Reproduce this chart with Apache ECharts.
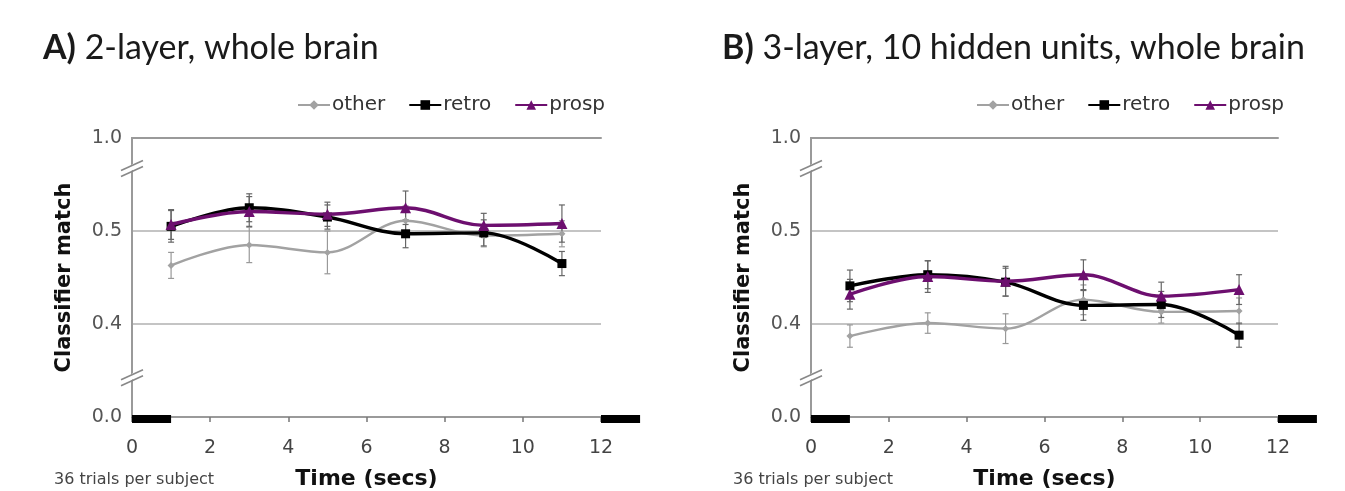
<!DOCTYPE html>
<html><head><meta charset="utf-8">
<script src="https://cdn.jsdelivr.net/npm/echarts@6/dist/echarts.min.js"></script>
<style>html,body{margin:0;padding:0;background:#fff}#c{width:1345px;height:491px}</style>
</head><body><div id="c"></div>
<script>
// ---- data ----
const times = [1, 3, 5, 7, 9, 11];
const xTickStep = 2;
const yTickLabels = ['0.0', '0.4', '0.5', '1.0']; // broken axis: shown at virtual 0.3,0.4,0.5,0.6
const seriesNames = ['other', 'retro', 'prosp'];
const titlesBold = ['A)', 'B)'];
const titlesText = ['2-layer, whole brain', '3-layer, 10 hidden units, whole brain'];
const footNote = '36 trials per subject';
const baselineBars = [[0, 1], [12, 13]];
const breakMarks = [0.34, 0.565];
// Panel A
const aOther = [0.463, 0.485, 0.477, 0.511, 0.495, 0.497];
const aOtherErr = [0.014, 0.019, 0.023, 0.016, 0.012, 0.014];
const aRetro = [0.505, 0.525, 0.515, 0.497, 0.498, 0.465];
const aRetroErr = [0.017, 0.015, 0.013, 0.015, 0.014, 0.013];
const aProsp = [0.507, 0.521, 0.518, 0.525, 0.506, 0.508];
const aProspErr = [0.016, 0.016, 0.013, 0.018, 0.013, 0.020];
// Panel B
const bOther = [0.387, 0.401, 0.395, 0.426, 0.413, 0.414];
const bOtherErr = [0.012, 0.011, 0.016, 0.016, 0.012, 0.014];
const bRetro = [0.441, 0.453, 0.445, 0.420, 0.421, 0.388];
const bRetroErr = [0.017, 0.015, 0.015, 0.016, 0.014, 0.013];
const bProsp = [0.432, 0.451, 0.446, 0.453, 0.430, 0.437];
const bProspErr = [0.016, 0.017, 0.016, 0.016, 0.015, 0.016];

const panels = [
  {vals: [aOther, aRetro, aProsp], errs: [aOtherErr, aRetroErr, aProspErr]},
  {vals: [bOther, bRetro, bProsp], errs: [bOtherErr, bRetroErr, bProspErr]}
];

// ---- styles ----
const FONT = 'DejaVu Sans';
const colors = ['#a2a2a2', '#000000', '#6d0f6f'];
const symbols = ['diamond', 'rect', 'triangle'];
const symbolSizes = [7, 9, 11];
const lineWidths = [2.4, 3.4, 3.4];
const grids = [
  {left: 132, top: 138, width: 469, height: 279, containLabel: false, outerBoundsMode: 'none'},
  {left: 811, top: 138, width: 467, height: 279, containLabel: false, outerBoundsMode: 'none'}
];
const axisGray = '#9a9a9a';

const zip = (xs, ys) => xs.map((x, i) => [x, ys[i]]);

const option = {
  animation: false,
  backgroundColor: '#fff',
  title: grids.map((g, i) => ({
    text: '{b|' + titlesBold[i] + '} ' + titlesText[i],
    left: g.left - 94, top: 26,
    textStyle: {
      fontFamily: 'Lato', fontSize: 34, color: '#1a1a1a', fontWeight: 'normal',
      rich: {b: {fontFamily: 'Lato', fontSize: 34, fontWeight: 'bold', color: '#1a1a1a'}}
    }
  })),
  legend: grids.map((g, i) => ({
    data: seriesNames,
    left: g.left + 160, top: 90,
    itemWidth: 32, itemHeight: 12, itemGap: 23,
    textStyle: {fontFamily: FONT, fontSize: 20, color: '#333', padding: [0, 0, 0, -3]},
    selectedMode: false
  })),
  grid: grids,
  xAxis: grids.flatMap((g, i) => [{
    type: 'value', gridIndex: i, min: 0, max: 12, interval: xTickStep,
    axisLine: {lineStyle: {color: axisGray, width: 2}},
    axisTick: {show: true, length: 5, lineStyle: {color: '#777', width: 1.5}},
    axisLabel: {fontFamily: FONT, fontSize: 19, color: '#444', margin: 22},
    splitLine: {show: false},
    name: 'Time (secs)', nameLocation: 'middle', nameGap: 51,
    nameTextStyle: {fontFamily: FONT, fontSize: 22, fontWeight: 'bold', color: '#111'}
  }, {
    type: 'value', gridIndex: i, position: 'top', min: 0, max: 12,
    axisLine: {lineStyle: {color: axisGray, width: 2}},
    axisTick: {show: false}, axisLabel: {show: false}, splitLine: {show: false}
  }]),
  yAxis: grids.flatMap((g, i) => [{
    type: 'value', gridIndex: i, min: 0.3, max: 0.6, interval: 0.1,
    axisLine: {show: true, lineStyle: {color: axisGray, width: 2}},
    axisTick: {show: false},
    axisLabel: {
      fontFamily: FONT, fontSize: 19, color: '#555', margin: 10,
      formatter: v => yTickLabels[Math.round((v - 0.3) / 0.1)]
    },
    splitLine: {show: true, lineStyle: {color: '#b0b0b0', width: 1.5}},
    name: 'Classifier match', nameLocation: 'middle', nameRotate: 90, nameGap: 57,
    nameTextStyle: {fontFamily: FONT, fontSize: 21, fontWeight: 'bold', color: '#111'}
  }, {
    type: 'value', gridIndex: i, position: 'right', min: 0.3, max: 0.6,
    axisLine: {show: true, lineStyle: {color: axisGray, width: 2}},
    axisTick: {show: false}, axisLabel: {show: false}, splitLine: {show: false}
  }]),
  graphic: grids.map(g => ({
    type: 'text', left: g.left - 78, top: 472,
    style: {text: footNote, fontFamily: FONT, fontSize: 16, fill: '#444'}
  })),
  series: []
};

panels.forEach((p, gi) => {
  const xi = gi * 2, yi = gi * 2;
  // baseline black bars
  option.series.push({
    type: 'custom', xAxisIndex: xi, yAxisIndex: yi, clip: false, silent: true, z: 5,
    data: baselineBars.map(b => [b[0], b[1]]),
    renderItem: (params, api) => {
      const a = api.coord([api.value(0), 0.3]);
      const b = api.coord([api.value(1), 0.3]);
      return {type: 'rect', shape: {x: a[0], y: a[1] - 2, width: b[0] - a[0], height: 8},
        style: {fill: '#000'}};
    }
  });
  // axis break marks
  option.series.push({
    type: 'custom', xAxisIndex: xi, yAxisIndex: yi, clip: false, silent: true, z: 5,
    data: breakMarks.map(y => [0, y]),
    renderItem: (params, api) => {
      const c = api.coord([api.value(0), api.value(1)]);
      const x = c[0], y = c[1];
      return {type: 'group', children: [
        {type: 'polygon', shape: {points: [[x - 3, y + 2], [x + 3, y - 2], [x + 3, y - 8], [x - 3, y - 4]]}, style: {fill: '#fff'}},
        {type: 'line', shape: {x1: x - 11, y1: y + 6, x2: x + 11, y2: y - 4}, style: {stroke: '#888', lineWidth: 1.6}},
        {type: 'line', shape: {x1: x - 11, y1: y, x2: x + 11, y2: y - 10}, style: {stroke: '#888', lineWidth: 1.6}}
      ]};
    }
  });
  p.vals.forEach((vals, si) => {
    const errs = p.errs[si];
    // error bars
    option.series.push({
      type: 'custom', xAxisIndex: xi, yAxisIndex: yi, silent: true, z: 3,
      data: times.map((t, k) => [t, vals[k] - errs[k], vals[k] + errs[k]]),
      renderItem: (params, api) => {
        const lo = api.coord([api.value(0), api.value(1)]);
        const hi = api.coord([api.value(0), api.value(2)]);
        const st = {stroke: si === 0 ? '#999' : '#666', lineWidth: 1.2};
        return {type: 'group', children: [
          {type: 'line', shape: {x1: lo[0], y1: lo[1], x2: hi[0], y2: hi[1]}, style: st},
          {type: 'line', shape: {x1: lo[0] - 3, y1: lo[1], x2: lo[0] + 3, y2: lo[1]}, style: st},
          {type: 'line', shape: {x1: hi[0] - 3, y1: hi[1], x2: hi[0] + 3, y2: hi[1]}, style: st}
        ]};
      }
    });
    option.series.push({
      type: 'line', name: seriesNames[si], xAxisIndex: xi, yAxisIndex: yi,
      data: zip(times, vals), smooth: 0.35, z: 4 + si,
      symbol: symbols[si], symbolSize: symbolSizes[si],
      lineStyle: {color: colors[si], width: lineWidths[si]},
      itemStyle: {color: colors[si]}
    });
  });
});

const chart = echarts.init(document.getElementById('c'), null, {renderer: 'canvas'});
chart.setOption(option);
</script>
</body></html>
